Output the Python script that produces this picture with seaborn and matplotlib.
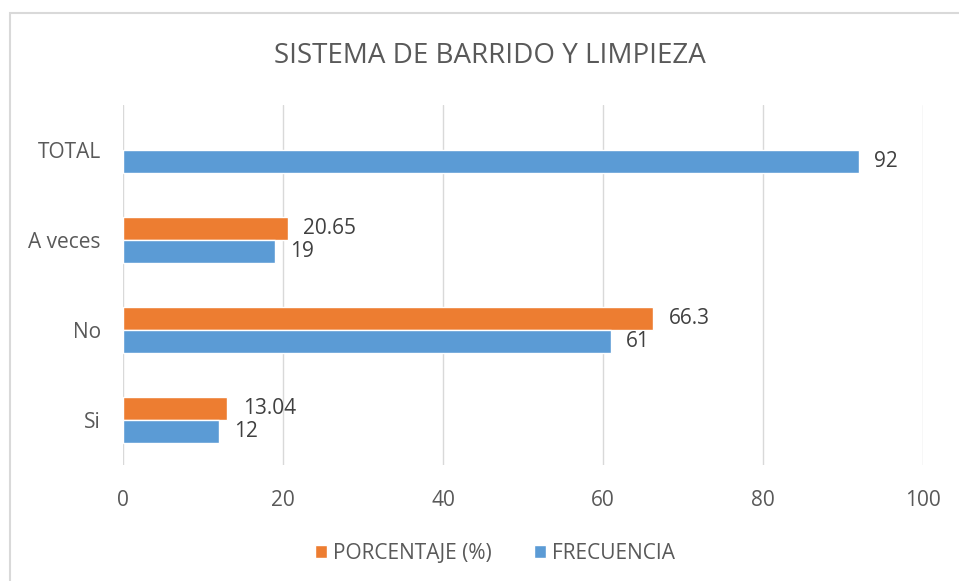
import numpy as np
import pandas as pd
import seaborn as sns
import matplotlib.pyplot as plt
from matplotlib.patches import Rectangle

# Chart data
categories = ['TOTAL', 'A veces', 'No', 'Si']
porcentaje = [np.nan, 20.65, 66.3, 13.04]
frecuencia = [92, 19, 61, 12]
series_names = ['PORCENTAJE (%)', 'FRECUENCIA']
xticks = [0, 20, 40, 60, 80, 100]

df = pd.DataFrame({
    'Categoria': categories * 2,
    'Serie': [series_names[0]] * len(categories) + [series_names[1]] * len(categories),
    'Valor': porcentaje + frecuencia,
})

sns.set_style('white')
plt.rcParams['font.family'] = ['Open Sans', 'DejaVu Sans']
text_color = '#595959'
colors = {'PORCENTAJE (%)': '#ED7D31', 'FRECUENCIA': '#5B9BD5'}

fig = plt.figure(figsize=(9.59, 5.81), dpi=100)
ax = fig.add_axes([123 / 959, (581 - 465) / 581, 800 / 959, 360 / 581])

sns.barplot(data=df, y='Categoria', x='Valor', hue='Serie', order=categories,
            hue_order=series_names, palette=colors, orient='h', width=0.51,
            gap=0, ax=ax, legend=True, saturation=1)

# Value labels
for container in ax.containers:
    labels = ['' if np.isnan(v) else f'{v:g}' for v in container.datavalues]
    ax.bar_label(container, labels=labels, padding=11, fontsize=15, color='#404040')

ax.set_xlim(0, 100)
ax.set_ylim(3.5, -0.5)
ax.set_xticks(xticks)
ax.set_xlabel('')
ax.set_ylabel('')
ax.grid(axis='x', color='#D9D9D9', linewidth=1)
ax.set_axisbelow(True)
for s in ax.spines.values():
    s.set_visible(False)
ax.tick_params(axis='both', length=0, labelsize=15, labelcolor=text_color)
ax.tick_params(axis='x', pad=18)
ax.tick_params(axis='y', pad=16)

ax.legend(loc='center', bbox_to_anchor=(0.465, -0.245), ncol=2, frameon=False,
          fontsize=15, labelcolor=text_color, handlelength=0.6, handleheight=0.6,
          handletextpad=0.3, columnspacing=2.0)

fig.text(490 / 959, (581 - 56) / 581, 'SISTEMA DE BARRIDO Y LIMPIEZA', ha='center', va='center',
         fontsize=20, color=text_color)

# Chart frame
fig.patches.append(Rectangle((10 / 959, -0.05), 1.0, (581 - 13) / 581 + 0.05,
                             transform=fig.transFigure, fill=False,
                             edgecolor='#D9D9D9', linewidth=1.5))

fig.savefig('out.png', dpi=100)
